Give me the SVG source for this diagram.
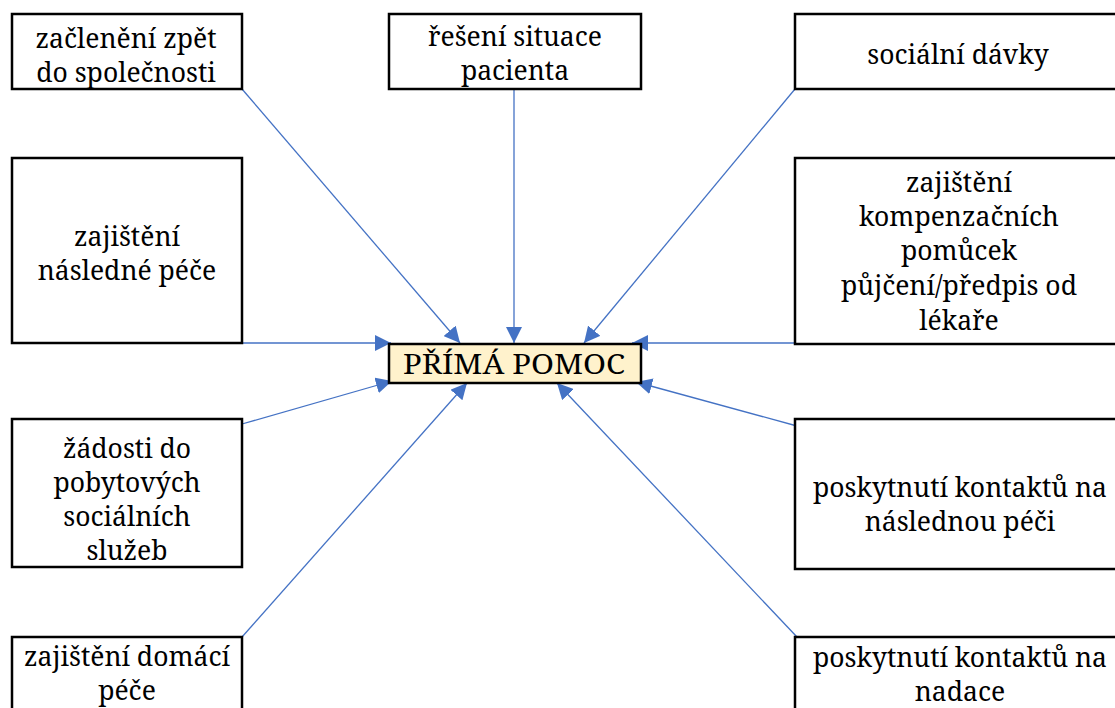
<svg xmlns="http://www.w3.org/2000/svg" width="1115" height="708" viewBox="0 0 1115 708">
<style>
.box{fill:#fff;stroke:#000;stroke-width:2.5}
.center{fill:#FFF2CC;stroke:#000;stroke-width:2.5}
.t text{font-family:"Noto Serif","DejaVu Serif","Liberation Serif",serif;font-size:26.5px;fill:#000;text-anchor:middle}
.conn line{stroke:#4472C4;stroke-width:1.3;marker-end:url(#ah)}
</style>
<defs>
<marker id="ah" markerUnits="userSpaceOnUse" markerWidth="17" markerHeight="16" viewBox="0 0 17 16" refX="16" refY="8" orient="auto">
<path d="M0,0 L16,8 L0,16 Z" fill="#4472C4"/>
</marker>
</defs>
<rect width="1115" height="708" fill="#fff"/>
<g class="conn" id="connectors">
<line x1="242" y1="89" x2="460" y2="343"/>
<line x1="514" y1="89" x2="514" y2="343"/>
<line x1="795" y1="89" x2="584" y2="343"/>
<line x1="242" y1="343" x2="391" y2="343"/>
<line x1="795" y1="343" x2="632" y2="343"/>
<line x1="242" y1="424" x2="392" y2="381"/>
<line x1="797" y1="426" x2="636" y2="382"/>
<line x1="242" y1="637" x2="467" y2="383"/>
<line x1="797" y1="637" x2="557" y2="383"/>
</g>
<g class="t">
<g id="n1"><rect class="box" x="12" y="14" width="230" height="75"/><text x="126" y="48">začlenění zpět</text><text x="126" y="82">do společnosti</text></g>
<g id="n2"><rect class="box" x="389" y="14" width="252" height="75"/><text x="515" y="46">řešení situace</text><text x="515" y="80">pacienta</text></g>
<g id="n3"><rect class="box" x="795" y="14" width="330" height="75"/><text x="958" y="64">sociální dávky</text></g>
<g id="n4"><rect class="box" x="12" y="158" width="230" height="185"/><text x="127" y="246">zajištění</text><text x="127" y="280">následné péče</text></g>
<g id="n5"><rect class="box" x="795" y="158" width="330" height="186"/><text x="959" y="192">zajištění</text><text x="959" y="226">kompenzačních</text><text x="959" y="260">pomůcek</text><text x="959" y="295">půjčení/předpis od</text><text x="959" y="330">lékaře</text></g>
<g id="n6"><rect class="center" x="389" y="344" width="252" height="39"/><text x="514" y="374" style="font-size:27px" textLength="222" lengthAdjust="spacingAndGlyphs">PŘÍMÁ POMOC</text></g>
<g id="n7"><rect class="box" x="12" y="419" width="230" height="148"/><text x="127" y="458">žádosti do</text><text x="127" y="492">pobytových</text><text x="127" y="526">sociálních</text><text x="127" y="560">služeb</text></g>
<g id="n8"><rect class="box" x="795" y="419" width="330" height="150"/><text x="960" y="497">poskytnutí kontaktů na</text><text x="960" y="531">následnou péči</text></g>
<g id="n9"><rect class="box" x="12" y="637" width="230" height="90"/><text x="127" y="666">zajištění domácí</text><text x="127" y="700">péče</text></g>
<g id="n10"><rect class="box" x="795" y="637" width="330" height="90"/><text x="960" y="667">poskytnutí kontaktů na</text><text x="960" y="701">nadace</text></g>
</g>
</svg>
